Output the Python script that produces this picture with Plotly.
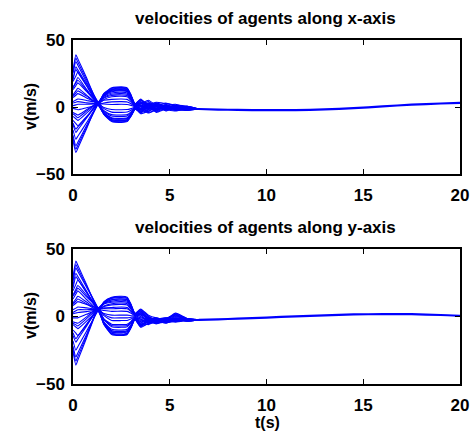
import plotly.graph_objects as go

# time knots (s) for the transient phase, shared by every agent
T_EARLY = [0, 0.15, 0.25, 0.7, 1.3, 1.6, 2.0, 2.5, 2.8, 3.0, 3.2, 3.5, 3.9, 4.3, 4.8, 5.3, 5.9, 6.5]
# consensus phase (all agents coincide)
T_TAIL = [6.5, 7.5, 8.5, 10, 11.5, 13, 14.5, 16, 17.5, 19, 20]
VX_TAIL = [-1.5, -1.9, -2.2, -2.4, -2.3, -1.8, -0.9, 0.5, 1.7, 2.6, 3.1]
VY_TAIL = [-2.5, -2.1, -1.6, -0.8, 0.1, 0.9, 1.5, 1.8, 1.7, 1.1, 0.4]

# velocity along x of each agent at T_EARLY (m/s)
VX_AGENTS = [
    [27, 39, 35.9, 21.8, 3.0, 10.2, 14.3, 15, 14.2, 9, 2.5, 4, 1.5, 3, 0.5, 1, -0.5, -1.5],
    [26, 36.5, 33.5, 20.3, 2.5, -5.3, -10, -10.5, -10, -6.3, -1.6, -2, 2, -1.5, 1.5, -0.5, -1.5, -1.5],
    [25, 34, 31.2, 18.7, 2.0, 8.9, 12.8, 13.5, 12.8, 8.1, 2, -2, 3, -1, 2, -1.5, 0.5, -1.5],
    [20, 30, 27.7, 17.3, 3.5, -5.5, -10.9, -11.5, -10.9, -6.9, -1.7, 1, -3, 0.5, -2, -0.5, -2, -1.5],
    [21, 28, 25.8, 16, 3.0, 9.9, 13.8, 14.5, 13.8, 8.7, 2.2, 5.5, 0, 1, 3, 0.5, 0, -1.5],
    [19, 23.2, 26, 15.9, 2.5, 8.2, 11.4, 12, 11.4, 7.2, 1.8, 3, -1, 2.5, -1, 0.5, -1, -1.5],
    [14, 18.8, 22, 13.2, 1.5, -5.4, -9.5, -10, -9.5, -6, -1.5, -3.5, 0, -2.5, 1, -2, -1.5, -1.5],
    [15, 18, 20, 12.3, 2.0, -4.6, -8.6, -9, -8.6, -5.4, -1.4, -1, -3.5, 1.5, -2.5, 1, -1, -1.5],
    [13, 16, 18, 11.6, 3.0, 7.2, 9.5, 10, 9.5, 6, 1.5, 2, 4, 0, 1.5, -1, 0, -1.5],
    [9, 12, 14, 8.9, 2.0, 5.6, 7.6, 8, 7.6, 4.8, 1.2, -1, 1, -1.5, 0, -1.5, -0.5, -1.5],
    [8, 10.4, 12, 8.1, 3.0, 8.7, 11.9, 12.5, 11.9, 7.5, 1.9, 2.5, 5, 1, -1.5, 1, -0.5, -1.5],
    [7, 8.8, 10, 6.8, 2.5, -4.1, -8.1, -8.5, -8.1, -5.1, -1.3, -4, -2, 1, -3, 0, -2.5, -1.5],
    [4, 5.2, 6, 4.9, 3.5, 5, 5.7, 6, 5.7, 3.6, 0.9, 5, 2, 3.5, 2.5, 1.5, 0.5, -1.5],
    [3, 3.6, 4, 3.1, 2.0, -3.4, -6.7, -7, -6.7, -4.2, -1.1, -4.5, 1, -2, 0, -1.5, -2, -1.5],
    [1, 1.6, 2, 2, 2.0, -2.8, -5.7, -6, -5.7, -3.6, -0.9, 0, -4, -2, -1, -2.5, -1, -1.5],
    [-1, -1.6, -2, -0.5, 1.5, 3, 3.8, 4, 3.8, 2.4, 0.6, 3.5, 0.5, 1.5, -1.5, 0.5, -1.5, -1.5],
    [-4, -5.2, -6, -2.1, 3.0, -1.2, -3.8, -4, -3.8, -2.4, -0.6, -2.5, 2.5, -3, 0.5, -1, 0, -1.5],
    [-5, -6.8, -8, -3.1, 3.5, 6.8, 8.6, 9, 8.6, 5.4, 1.4, 1, -2, 3, 0.5, -0.5, 0.5, -1.5],
    [-7, -8.8, -10, -4.6, 2.5, 2.2, 1.9, 2, 1.9, 1.2, 0.3, 1.5, -1.5, 0.5, 1, -1, -2, -1.5],
    [-10, -12.4, -14, -7.1, 2.0, -0.4, -1.9, -2, -1.9, -1.2, -0.3, -5, -3, -1, -2, -3, -1, -1.5],
    [-12, -16.5, -14.9, -7.7, 2.0, -5.2, -9.5, -10, -9.5, -6, -1.5, -3.5, 1.5, -4, -1.5, -2.5, -1.5, -1.5],
    [-13, -19, -17, -8.2, 3.5, 8, 10.5, 11, 10.5, 6.6, 1.7, 0.5, 3, -0.5, 1, 2, -0.5, -1.5],
    [-17, -24, -21.8, -11.8, 1.5, -4.8, -8.6, -9, -8.6, -5.4, -1.4, -1.5, -4.5, -2, -0.5, -2, -2.5, -1.5],
    [-21, -29, -26.3, -13.9, 2.5, 9.4, 13.3, 14, 13.3, 8.4, 2.1, 6, 1, 2, -0.5, 0, -1, -1.5],
    [-23, -31.5, -28.5, -15.2, 2.5, 8.8, 12.4, 13, 12.4, 7.8, 2, 3, -1, 2, 0, 1, -1, -1.5],
    [-25, -34, -30.8, -16.3, 3.0, -5.4, -10.5, -11, -10.5, -6.6, -1.7, -3, -0.5, -3.5, -1, -1.5, -2, -1.5],
]

# velocity along y of each agent at T_EARLY (m/s)
VY_AGENTS = [
    [29, 41, 37.9, 23.8, 5, 11, 14.3, 15, 14.3, 9, 2.3, 4, -1, -2, -1.5, 1.5, -2, -2.5],
    [27, 38.5, 35.6, 22.7, 5.5, -5.9, -12.8, -13.5, -12.8, -8.1, -2, -7.5, -3, -5.5, -2.5, -3.5, -2, -2.5],
    [26, 36, 33.4, 21.7, 6, -6, -13.3, -14, -13.3, -8.4, -2.1, -8, -5, -4.5, -3.5, -3, -3, -2.5],
    [23, 32, 29.6, 18.9, 4.5, 9.6, 12.4, 13, 12.4, 7.8, 2, 5, 0, -3, -2, -1, -1.5, -2.5],
    [21, 29.5, 27.4, 17.8, 5, 10.7, 13.8, 14.5, 13.8, 8.7, 2.2, 5.5, 1, -1, -2, 2.5, -1.5, -2.5],
    [19, 23.8, 27, 17.8, 5.5, -5, -11.4, -12, -11.4, -7.2, -1.8, -6, -4, -5, -4, -2.5, -3.5, -2.5],
    [15, 18.6, 21, 14.6, 6, -4.2, -10.5, -11, -10.5, -6.6, -1.7, -6, -5.5, -3, -3, -2, -3, -2.5],
    [16, 20.2, 23, 15.9, 6.5, 9.2, 10.5, 11, 10.5, 6.6, 1.7, 2, -2, -1, -3, 0, -2, -2.5],
    [13, 16.6, 19, 12.6, 4, -4.4, -9.5, -10, -9.5, -6, -1.5, -4, -6, -3.5, -4.5, -3.5, -2.5, -2.5],
    [10, 13, 15, 10.7, 5, 7.4, 8.6, 9, 8.6, 5.4, 1.4, 0, -3, -1.5, -2.5, 2, -1.5, -2.5],
    [9, 11.4, 13, 9.4, 4.5, 7.8, 9.5, 10, 9.5, 6, 1.5, 2.5, -2.5, -2, -1, -3, -2, -2.5],
    [8, 9.8, 11, 8.9, 6, -2.4, -7.6, -8, -7.6, -4.8, -1.2, -7, -2, -4, -2, -4, -3, -2.5],
    [5, 6.2, 7, 6.4, 5.5, 6.4, 6.7, 7, 6.7, 4.2, 1.1, 3, -1, -2.5, -1, -2, -2, -2.5],
    [3, 4.2, 5, 5, 5, -2.2, -6.7, -7, -6.7, -4.2, -1.1, -2, -4, -3, -5, -2, -3.5, -2.5],
    [2, 2.6, 3, 3.6, 4.5, -1.8, -5.7, -6, -5.7, -3.6, -0.9, -5, -4, -2, -3.5, -2.5, -3, -2.5],
    [-1, -1, -1, 1.6, 5, 4.4, 3.8, 4, 3.8, 2.4, 0.6, 1, -3.5, -4, -2, -1.5, -2.5, -2.5],
    [-4, -4.6, -5, -0.3, 6, 0.6, -2.9, -3, -2.9, -1.8, -0.5, -3, -1.5, -3, -4, -3, -2, -2.5],
    [-5, -6.2, -7, -1.6, 5.5, 5.8, 5.7, 6, 5.7, 3.6, 0.9, -1, -2, -4.5, -2, 0.5, -2, -2.5],
    [-6, -7.8, -9, -3.4, 4, 2.2, 1, 1, 1, 0.6, 0.2, -2, -5, -1.5, -2.5, -1, -3, -2.5],
    [-10, -12.4, -14, -5.6, 5.5, 1.6, -1, -1, -1, -0.6, -0.2, -4, -2.5, -5, -3, -3.5, -2.5, -2.5],
    [-12, -16.5, -14.6, -6.2, 5, 9.8, 12.4, 13, 12.4, 7.8, 2, 4.5, 0, -2.5, -2, 1.5, -2.5, -2.5],
    [-14, -19, -16.8, -7.1, 6, -5.4, -12.4, -13, -12.4, -7.8, -2, -6.5, -3, -2, -4, -2, -3.5, -2.5],
    [-18, -25, -22.4, -10.9, 4.5, 10.2, 13.3, 14, 13.3, 8.4, 2.1, 3.5, -2, -3.5, -1.5, 1, -2, -2.5],
    [-22, -30, -27, -13.3, 5, -4.6, -10.5, -11, -10.5, -6.6, -1.7, -5.5, -4.5, -2.5, -3, -4, -2.5, -2.5],
    [-24, -33, -29.7, -14.6, 5.5, -5, -11.4, -12, -11.4, -7.2, -1.8, -7, -3.5, -4, -3.5, -2.5, -3, -2.5],
    [-26, -36, -32.3, -15.9, 6, 9.6, 11.4, 12, 11.4, 7.2, 1.8, 1.5, -1, -2, -2.5, -1.5, -1.5, -2.5],
]

X_TICKS = [0, 5, 10, 15, 20]
Y_TICKS = [-50, 0, 50]
TITLE_X = "velocities of agents along x-axis"
TITLE_Y = "velocities of agents along y-axis"
Y_LABEL = "v(m/s)"
X_LABEL = "t(s)"

FONT = "Liberation Sans, Arial, sans-serif"
BLUE = "#0000FF"

fig = go.Figure()
for axes, agents, tail in (("x", VX_AGENTS, VX_TAIL), ("2", VY_AGENTS, VY_TAIL)):
    xa = "x" if axes == "x" else "x2"
    ya = "y" if axes == "x" else "y2"
    for row in agents:
        fig.add_trace(go.Scatter(x=T_EARLY, y=row, mode="lines",
                                 line=dict(color=BLUE, width=1.1, shape="spline", smoothing=0.5),
                                 xaxis=xa, yaxis=ya, showlegend=False, hoverinfo="skip"))
    fig.add_trace(go.Scatter(x=T_TAIL, y=tail, mode="lines",
                             line=dict(color=BLUE, width=2.2, shape="spline", smoothing=0.6),
                             xaxis=xa, yaxis=ya, showlegend=False, hoverinfo="skip"))

tickfont = dict(family=FONT, size=17, color="black", weight="bold")
common = dict(showline=True, linecolor="black", linewidth=1.5, mirror="ticks",
              ticks="inside", ticklen=5, tickwidth=1, tickcolor="black",
              showgrid=False, zeroline=False, tickfont=tickfont, automargin=False)

H = 436
top_px, bot_px = 40, 384
span = bot_px - top_px

def py(p):
    return (bot_px - p) / span

lab_font = dict(family=FONT, size=16, color="black", weight="bold")
title_font = dict(family=FONT, size=17, color="black", weight="bold")

fig.update_layout(
    width=470, height=H,
    margin=dict(l=73, r=10, t=top_px, b=H - bot_px, autoexpand=False),
    paper_bgcolor="white", plot_bgcolor="white",
    xaxis=dict(domain=[0, 1], range=[0, 20], tickvals=X_TICKS, anchor="y",
               ticklabelstandoff=5, **common),
    yaxis=dict(domain=[py(174), 1], range=[-50, 50], tickvals=Y_TICKS, anchor="x",
               ticklabelstandoff=3, **common),
    xaxis2=dict(domain=[0, 1], range=[0, 20], tickvals=X_TICKS, anchor="y2",
                ticklabelstandoff=5, **common),
    yaxis2=dict(domain=[0, py(249)], range=[-50, 50], tickvals=Y_TICKS, anchor="x2",
                ticklabelstandoff=3, **common),
    annotations=[
        dict(text=TITLE_X, xref="paper", yref="paper", x=(265 - 73) / 387, y=py(19), xanchor="center",
             yanchor="middle", showarrow=False, font=title_font),
        dict(text=TITLE_Y, xref="paper", yref="paper", x=(265 - 73) / 387, y=py(227), xanchor="center",
             yanchor="middle", showarrow=False, font=title_font),
        dict(text=Y_LABEL, xref="paper", yref="paper", x=(30 - 73) / 387, y=py(107), xanchor="center",
             yanchor="middle", textangle=-90, showarrow=False, font=lab_font),
        dict(text=Y_LABEL, xref="paper", yref="paper", x=(30 - 73) / 387, y=py(316), xanchor="center",
             yanchor="middle", textangle=-90, showarrow=False, font=lab_font),
        dict(text=X_LABEL, xref="paper", yref="paper", x=(267 - 73) / 387, y=py(422), xanchor="center",
             yanchor="middle", showarrow=False, font=lab_font),
    ],
)

fig.write_html("out.html", config={"displayModeBar": False},
               post_script="document.body.style.margin='0';")
